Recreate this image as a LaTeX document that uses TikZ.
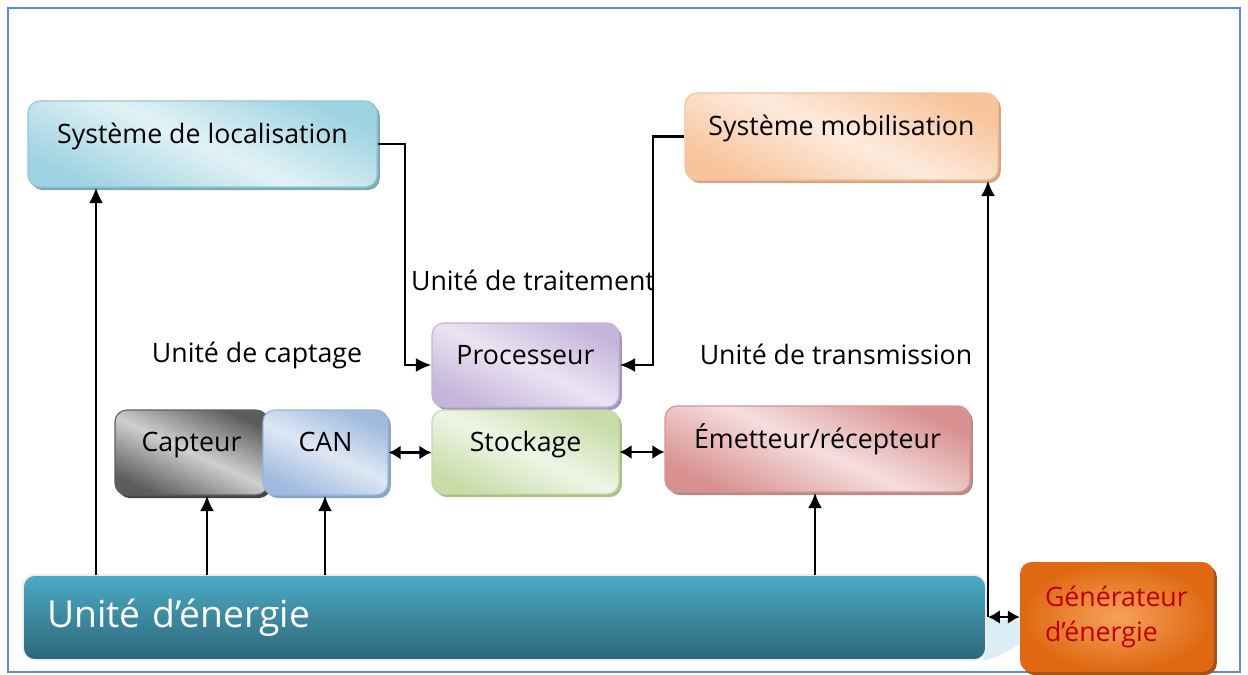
\documentclass[tikz,border=0pt]{standalone}
\usepackage{fontspec}
\setmainfont{Open Sans}
\usetikzlibrary{shadows,arrows.meta,calc}
\definecolor{frameblue}{HTML}{5B8BD0}
\definecolor{locS}{HTML}{7FA9B4}\definecolor{locD}{HTML}{8FCAD9}\definecolor{locA}{HTML}{9ED3E1}\definecolor{locB}{HTML}{E2F2F6}
\definecolor{mobS}{HTML}{D6A585}\definecolor{mobD}{HTML}{F5C29A}\definecolor{mobA}{HTML}{F8C49C}\definecolor{mobB}{HTML}{FDEBDD}
\definecolor{proS}{HTML}{A595BF}\definecolor{proD}{HTML}{C3B4D9}\definecolor{proA}{HTML}{C5B5DB}\definecolor{proB}{HTML}{EAE4F2}
\definecolor{stoS}{HTML}{A9C08A}\definecolor{stoD}{HTML}{C6DAA6}\definecolor{stoA}{HTML}{C8DCA8}\definecolor{stoB}{HTML}{EFF5E6}
\definecolor{capS}{HTML}{444444}\definecolor{capD}{HTML}{5E5E5E}\definecolor{capA}{HTML}{5C5C5C}\definecolor{capB}{HTML}{CFCFCF}
\definecolor{canS}{HTML}{8BA4C6}\definecolor{canD}{HTML}{9AB6DA}\definecolor{canA}{HTML}{9EBADF}\definecolor{canB}{HTML}{DEE7F3}
\definecolor{emeS}{HTML}{B88A8A}\definecolor{emeD}{HTML}{D89494}\definecolor{emeA}{HTML}{D99090}\definecolor{emeB}{HTML}{F5DEDE}
\definecolor{wedge}{HTML}{D9EEF5}
\definecolor{eneD}{HTML}{EDEDED}\definecolor{eneA}{HTML}{4BABC7}\definecolor{eneB}{HTML}{2D6677}
\definecolor{genS}{HTML}{A4521A}\definecolor{genA}{HTML}{F5A25A}\definecolor{genB}{HTML}{DF6811}\definecolor{genT}{HTML}{C00000}
\begin{document}
\begin{tikzpicture}[x=0.025cm,y=-0.025cm]
\def\u{0.025cm}
\tikzset{
 bx/.style={rounded corners=8.5pt, inner sep=0pt, line width=0.8pt,
   font=\fontsize{19}{22}\selectfont, text height=14pt, text depth=15pt},
 sh/.style={general shadow={fill=#1, draw=none, shadow xshift=2pt, shadow yshift=-2.2pt}},
 glossy/.style n args={2}{top color=#1, bottom color=#1, middle color=#2, shading angle=-25},
 arr/.style={line width=2pt, -{Latex[length=11pt,width=10pt]}},
 darr/.style={line width=2pt, {Latex[length=8.5pt,width=10pt]}-{Latex[length=8.5pt,width=10pt]}},
 lbl/.style={font=\fontsize{19}{22}\selectfont, inner sep=0pt},
}
\useasboundingbox (0,0) rectangle (1248,675);
\fill[white] (0,0) rectangle (1248,675);
\draw[frameblue, line width=1.2pt] (8,8) rectangle (1240,672);

% upper boxes
\node[bx, sh=locS, draw=locD, glossy={locA}{locB},
  minimum width=349*\u, minimum height=86*\u] (loc) at (202.5,144) {Système de localisation};
\node[bx, sh=mobS, draw=mobD, glossy={mobA}{mobB},
  minimum width=313*\u, minimum height=87*\u] (mob) at (841.5,136.5) {Système mobilisation};

% labels
\node[lbl] (ltrait) at (533,280) {Unité de traitement};
\node[lbl] (lcapt) at (257,355) {Unité de captage};
\node[lbl] (ltrans) at (836,354) {Unité de transmission};

% processing / storage
\node[bx, sh=proS, draw=proD, glossy={proA}{proB},
  minimum width=187*\u, minimum height=84*\u] (proc) at (525.5,365) {Processeur};
\node[bx, sh=stoS, draw=stoD, glossy={stoA}{stoB},
  minimum width=187*\u, minimum height=84*\u] (stock) at (525.5,452) {Stockage};

% sensing
\node[bx, sh=capS, draw=capD, glossy={capA}{capB},
  minimum width=153*\u, minimum height=85*\u] (capt) at (191.5,452.5) {Capteur};
\node[bx, sh=canS, draw=canD, glossy={canA}{canB},
  minimum width=125*\u, minimum height=85*\u] (can) at (325.5,452.5) {CAN};

% transmission
\node[bx, sh=emeS, draw=emeD, glossy={emeA}{emeB},
  minimum width=305*\u, minimum height=86*\u] (emet) at (817.5,449) {Émetteur/récepteur};

% decorative light wedge
\fill[wedge] (984,620) -- (1022,620) -- (1022,642) .. controls (1008,652) and (996,658) .. (984,660) -- cycle;

% energy unit
\node[rounded corners=8.5pt, draw=eneD, line width=1.2pt,
  top color=eneA, bottom color=eneB,
  minimum width=963*\u, minimum height=85*\u, inner xsep=24*\u, inner ysep=0pt,
  text width=(963-48)*\u, align=left, text=white,
  font=\fontsize{26.5}{30}\selectfont] (ener) at (504.5,617.5) {Unité d'énergie};

% generator
\node[rounded corners=8.5pt, general shadow={fill=genS, draw=none, shadow xshift=2pt, shadow yshift=-2.2pt},
  inner color=genA, outer color=genB,
  minimum width=194*\u, minimum height=110*\u, inner xsep=25*\u, inner ysep=0pt,
  text width=(194-50)*\u, align=left, text=genT,
  font=\fontsize{19}{25.5}\selectfont] (gen) at (1117,617) {Générateur\\d'énergie};

% connectors to processor
\coordinate (k1) at (405,144);
\coordinate (k2) at (653,136.5);
\draw[arr] (loc.east) -- (k1) |- (proc.west);
\draw[arr] (mob.west) -- (k2) |- (proc.east);

% power lines
\coordinate (p1) at (96,575);
\coordinate (p2) at (207,575);
\coordinate (p3) at (325,575);
\coordinate (p4) at (815,575);
\coordinate (p5) at (988,617);
\draw[arr] (p1) -- (p1 |- loc.south);
\draw[arr] (p2) -- (p2 |- capt.south);
\draw[arr] (p3) -- (p3 |- can.south);
\draw[arr] (p4) -- (p4 |- emet.south);
\draw[arr] (p5) -- (p5 |- mob.south);
\draw[darr] (p5) -- (gen.west |- p5);

% data links
\draw[darr] (can.east) -- (stock.west |- can.east);
\draw[darr] (stock.east) -- (emet.west |- stock.east);
\end{tikzpicture}
\end{document}
